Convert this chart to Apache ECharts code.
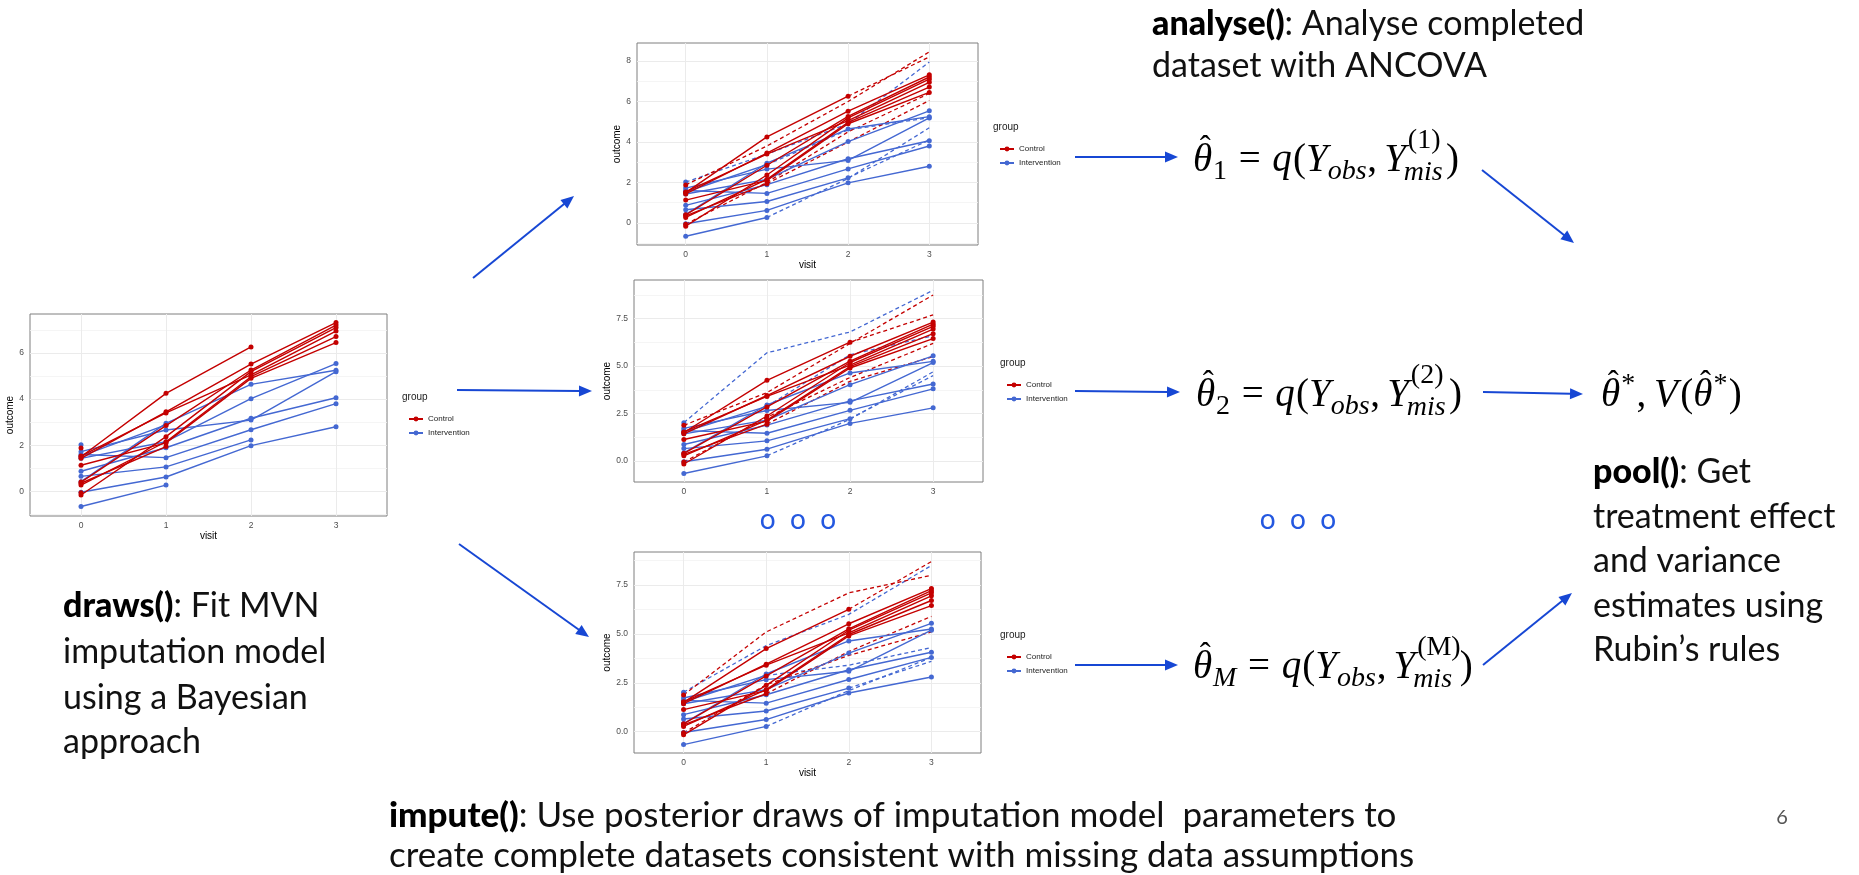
<!DOCTYPE html>
<html>
<head>
<meta charset="utf-8">
<script src="https://cdn.jsdelivr.net/npm/echarts@6.0.0/dist/echarts.min.js"></script>
<style>
html, body { margin: 0; padding: 0; background: #fff; }
#slide { width: 1859px; height: 875px; }
</style>
</head>
<body>
<div id="slide"></div>
<script>
'use strict';

///// data /////

const visits = [0, 1, 2, 3];

// observed outcome per subject (null = dropped out)
const controlObs = [
  [1.88, null, null, null],
  [1.50, 4.25, 6.26, null],
  [1.43, 3.45, 5.52, 7.32],
  [1.53, 3.40, 5.05, 6.95],
  [0.40, 2.85, 5.26, 7.21],
  [-0.16, 2.37, 5.19, 7.10],
  [0.27, 2.15, 4.97, 6.71],
  [1.13, 2.10, 4.90, 6.45],
  [0.35, 1.94, null, null],
  [-0.06, null, null, null]
];
const interventionObs = [
  [2.02, null, null, null],
  [1.72, 2.66, 3.09, 5.19],
  [0.42, 2.95, 4.64, 5.25],
  [1.60, 1.46, 2.67, 3.80],
  [1.43, 2.15, 4.02, 5.54],
  [0.87, 1.89, 3.17, 4.06],
  [1.53, 2.88, null, null],
  [0.65, 1.06, 2.23, null],
  [-0.04, 0.62, 1.98, 2.80],
  [-0.66, 0.27, null, null]
];

// imputed values, one table per completed dataset (same rows as above)
const E = [null, null, null, null];
const controlImp1 = [[null, 3.80, 6.00, 8.45], [null, null, null, 8.20], E, E, E, E, E, E, [null, null, 4.00, 6.05], [null, 2.00, 4.50, 6.40]];
const controlImp2 = [[null, 3.60, 6.20, 8.75], [null, null, null, 7.70], E, E, E, E, E, E, [null, null, 4.20, 5.50], [null, 2.30, 4.40, 6.20]];
const controlImp3 = [[null, 5.10, 7.10, 8.00], [null, null, null, 8.70], E, E, E, E, E, E, [null, null, 4.10, 5.90], [null, 2.40, 3.90, 5.10]];
const interventionImp1 = [[null, 3.40, 4.90, 7.95], E, E, E, E, E, [null, null, 4.60, 5.20], [null, null, null, 4.10], E, [null, null, 2.20, 4.70]];
const interventionImp2 = [[null, 5.70, 6.80, 9.00], E, E, E, E, E, [null, null, 5.60, 6.60], [null, null, null, 4.50], E, [null, null, 2.20, 4.70]];
const interventionImp3 = [[null, 4.40, 6.00, 8.50], E, E, E, E, E, [null, null, 3.40, 4.30], [null, null, null, 3.60], E, [null, null, 2.10, 3.80]];

const groups = ['Control', 'Intervention'];

// tick labels
const yTicksObs = [0, 2, 4, 6];
const yTicksImp1 = [0, 2, 4, 6, 8];
const yTicksImp = [0, 2.5, 5, 7.5];

///// layout /////

const RED = '#c40000';
const BLUE = '#4468d2';
const ARROW = '#1747d4';
const GRIDLINE = '#ebebeb';

const panels = [
  { left: 30, top: 314, width: 357, height: 202, yMin: -1.07, yMax: 7.69, major: yTicksObs, minor: [-1, 1, 3, 5, 7], fmt: v => String(v),
    impC: null, impB: null, legend: [403, 397], visit: true, nameGap: 15 },
  { left: 637, top: 43, width: 341, height: 202, yMin: -1.09, yMax: 8.89, major: yTicksImp1, minor: [-1, 1, 3, 5, 7], fmt: v => String(v),
    impC: controlImp1, impB: interventionImp1, legend: [994, 127], visit: true, nameGap: 13 },
  { left: 634, top: 280, width: 349, height: 202, yMin: -1.11, yMax: 9.54, major: yTicksImp, minor: [-1.25, 1.25, 3.75, 6.25, 8.75], fmt: v => v.toFixed(1),
    impC: controlImp2, impB: interventionImp2, legend: [1001, 363], visit: false, nameGap: 20 },
  { left: 634, top: 552, width: 347, height: 201, yMin: -1.09, yMax: 9.19, major: yTicksImp, minor: [-1.25, 1.25, 3.75, 6.25, 8.75], fmt: v => v.toFixed(1),
    impC: controlImp3, impB: interventionImp3, legend: [1001, 635], visit: true, nameGap: 20 }
];

const grid = [], xAxis = [], yAxis = [], series = [], legend = [];

panels.forEach((p, k) => {
  grid.push({ left: p.left, top: p.top, width: p.width, height: p.height, show: true,
    borderColor: '#7f7f7f', borderWidth: 1, backgroundColor: '#fff', containLabel: false });

  xAxis.push({
    type: 'value', gridIndex: k, min: -0.6, max: 3.6,
    name: p.visit ? 'visit' : '', nameLocation: 'middle', nameGap: 15,
    nameTextStyle: { fontSize: 10, color: '#000' },
    axisLine: { show: false },
    axisTick: { show: false, customValues: visits },
    axisLabel: { fontSize: 8.5, color: '#4d4d4d', margin: 5, customValues: visits },
    splitLine: { show: true, lineStyle: { color: GRIDLINE, width: 1 } }
  });

  // major axis with labels
  yAxis.push({
    type: 'value', gridIndex: k, min: p.yMin, max: p.yMax,
    name: 'outcome', nameLocation: 'middle', nameGap: p.nameGap,
    nameTextStyle: { fontSize: 10, color: '#000' },
    axisLine: { show: false },
    axisTick: { show: false, customValues: p.major },
    axisLabel: { fontSize: 8.5, color: '#4d4d4d', margin: 6, customValues: p.major, formatter: p.fmt },
    splitLine: { show: true, lineStyle: { color: GRIDLINE, width: 1 } }
  });
  // minor grid lines
  yAxis.push({
    type: 'value', gridIndex: k, min: p.yMin, max: p.yMax,
    axisLine: { show: false }, axisLabel: { show: false },
    axisTick: { show: false, customValues: p.minor },
    splitLine: { show: true, lineStyle: { color: '#f2f2f2', width: 0.8 } }
  });

  const sets = [
    { name: 'Intervention', color: BLUE, obs: interventionObs, imp: p.impB },
    { name: 'Control', color: RED, obs: controlObs, imp: p.impC }
  ];
  sets.forEach((g, gi) => {
    g.obs.forEach((row, i) => {
      const pts = [];
      row.forEach((v, j) => { if (v !== null) pts.push([visits[j], v]); });
      if (g.imp && g.imp[i].some(v => v !== null)) {
        const dpts = [pts[pts.length - 1]];
        g.imp[i].forEach((v, j) => { if (v !== null) dpts.push([visits[j], v]); });
        series.push({
          type: 'line', name: g.name + ' (imputed)', xAxisIndex: k, yAxisIndex: 2 * k,
          data: dpts, symbol: 'none', silent: true, z: 2 + gi,
          lineStyle: { color: g.color, width: 1.3, type: [4, 3] }
        });
      }
      series.push({
        type: 'line', name: g.name, xAxisIndex: k, yAxisIndex: 2 * k,
        data: pts, symbol: 'circle', symbolSize: 5, silent: true, z: 4 + gi,
        itemStyle: { color: g.color }, lineStyle: { color: g.color, width: 1.4 }
      });
    });
  });

  legend.push({
    data: groups, orient: 'vertical', left: p.legend[0], top: p.legend[1] + 13,
    itemWidth: 14, itemHeight: 6, itemGap: 6, selectedMode: false,
    textStyle: { fontSize: 8, color: '#222' }
  });
});

///// graphic (slide text, arrows, formulas) /////

const graphic = [];

const textLine = (x, y, text, size, opts = {}) => {
  graphic.push({
    type: 'text', silent: true, z: 10,
    style: Object.assign({
      text: text, x: x, y: y, fontSize: size, fontFamily: 'Lato', fill: '#111',
      verticalAlign: 'middle', align: 'left',
      rich: {
        b: { fontSize: size, fontFamily: 'Lato', fontWeight: 900, fill: '#000' },
        r: { fontSize: size, fontFamily: 'Lato', fill: '#111' }
      }
    }, opts)
  });
};

const arrow = (x1, y1, x2, y2) => {
  const len = Math.hypot(x2 - x1, y2 - y1);
  const ux = (x2 - x1) / len, uy = (y2 - y1) / len;
  const hl = 13, hw = 5.5;
  const bx = x2 - ux * hl, by = y2 - uy * hl;
  graphic.push({ type: 'line', silent: true, z: 10,
    shape: { x1: x1, y1: y1, x2: bx + ux, y2: by + uy },
    style: { stroke: ARROW, lineWidth: 2 } });
  graphic.push({ type: 'polygon', silent: true, z: 10,
    shape: { points: [[x2, y2], [bx - uy * hw, by + ux * hw], [bx + uy * hw, by - ux * hw]] },
    style: { fill: ARROW } });
};

// formula typesetting
const ctx = document.createElement('canvas').getContext('2d');
const MATHFONT = '"Liberation Serif"';
const meas = (t, s, it) => { ctx.font = (it ? 'italic ' : '') + s + 'px ' + MATHFONT; return ctx.measureText(t).width; };
const mtext = (t, x, base, s, it) => ({
  type: 'text', silent: true, z: 10,
  style: { text: t, x: x, y: base - 0.32 * s, fontSize: s, fontFamily: MATHFONT, fontStyle: it ? 'italic' : 'normal',
    fill: '#000', verticalAlign: 'middle', align: 'left' }
});

const formula = (x, base, size, parts) => {
  const small = Math.round(size * 0.72);
  let cx = x;
  parts.forEach(p => {
    if (p.gap) { cx += p.gap * size; return; }
    if (p.stack) {
      const w1 = meas(p.sup, small, false), w2 = meas(p.sub, small, true);
      graphic.push(mtext(p.sup, cx + 2, base - 0.6 * size, small, false));
      graphic.push(mtext(p.sub, cx - 2, base + 0.22 * size, small, true));
      cx += Math.max(w1, w2);
      return;
    }
    const s = p.small ? small : size;
    const w = meas(p.t, s, p.i);
    graphic.push(mtext(p.t, cx, base + (p.dy || 0) * size, s, p.i));
    if (p.hat) {
      const hs = Math.round(size * 0.85);
      graphic.push(mtext('ˆ', cx + w * 0.5 - meas('ˆ', hs, false) / 2 + 0.07 * size, base - 0.3 * size, hs, false));
    }
    cx += w + (p.after || 0) * size;
  });
};

const thetaEq = (x, base, idx, idxItalic) => formula(x, base, 39, [
  { t: 'θ', i: true, hat: true, after: 0.02 },
  { t: idx, i: idxItalic, small: true, dy: 0.2 },
  { gap: 0.3 }, { t: '=' }, { gap: 0.3 },
  { t: 'q', i: true, after: 0.03 }, { t: '(' }, { t: 'Y', i: true },
  { t: 'obs', i: true, small: true, dy: 0.2, after: 0.02 },
  { t: ',' }, { gap: 0.18 },
  { t: 'Y', i: true },
  { stack: true, sup: '(' + idx + ')', sub: 'mis' },
  { gap: 0.03 }, { t: ')' }
]);

thetaEq(1193, 173, '1', false);
thetaEq(1196, 408, '2', false);
thetaEq(1193, 680, 'M', true);

formula(1601, 408, 39, [
  { t: 'θ', i: true, hat: true, after: 0.03 }, { t: '*', small: true, dy: -0.38, after: 0.03 },
  { t: ',' }, { gap: 0.2 }, { t: 'V', i: true, after: 0.06 }, { t: '(' },
  { t: 'θ', i: true, hat: true, after: 0.03 }, { t: '*', small: true, dy: -0.38, after: 0.03 }, { t: ')' }
]);

// arrows
arrow(473, 278, 574, 196);
arrow(457, 390, 592, 391);
arrow(459, 544, 589, 637);
arrow(1075, 157, 1178, 157);
arrow(1075, 391, 1180, 392);
arrow(1075, 665, 1178, 665);
arrow(1482, 170, 1574, 243);
arrow(1483, 392, 1583, 394);
arrow(1483, 665, 1572, 593);

// legend titles
panels.forEach(p => {
  graphic.push({ type: 'text', silent: true,
    style: { text: 'group', x: p.legend[0] - 1, y: p.legend[1], fontSize: 10, fontFamily: 'Liberation Sans', fill: '#222', verticalAlign: 'middle' } });
});

// slide text
textLine(1152, 24, '{b|analyse()}{r|: Analyse completed}', 34);
textLine(1152, 66, 'dataset with ANCOVA', 34);

textLine(63, 606, '{b|draws()}{r|: Fit MVN}', 34);
textLine(63, 652, 'imputation model', 34);
textLine(63, 698, 'using a Bayesian', 34);
textLine(63, 742, 'approach', 34);

textLine(389, 816, '{b|impute()}{r|: Use posterior draws of imputation model  parameters to}', 35);
textLine(389, 856, 'create complete datasets consistent with missing data assumptions', 35);

textLine(1593, 472, '{b|pool()}{r|: Get}', 34);
textLine(1593, 517, 'treatment effect', 34);
textLine(1593, 561, 'and variance', 34);
textLine(1593, 606, 'estimates using', 34);
textLine(1593, 650, 'Rubin’s rules', 34);

textLine(798, 520, 'o  o  o', 28, { fill: '#2458e0', align: 'center' });
textLine(1298, 520, 'o  o  o', 28, { fill: '#2458e0', align: 'center' });

textLine(1782, 818, '6', 20, { fill: '#555', align: 'center' });

///// chart /////

const chart = echarts.init(document.getElementById('slide'), null, { renderer: 'canvas' });
chart.setOption({
  animation: false,
  backgroundColor: '#fff',
  textStyle: { fontFamily: 'Liberation Sans' },
  grid: grid,
  xAxis: xAxis,
  yAxis: yAxis,
  legend: legend,
  series: series,
  graphic: graphic
});
</script>
</body>
</html>
